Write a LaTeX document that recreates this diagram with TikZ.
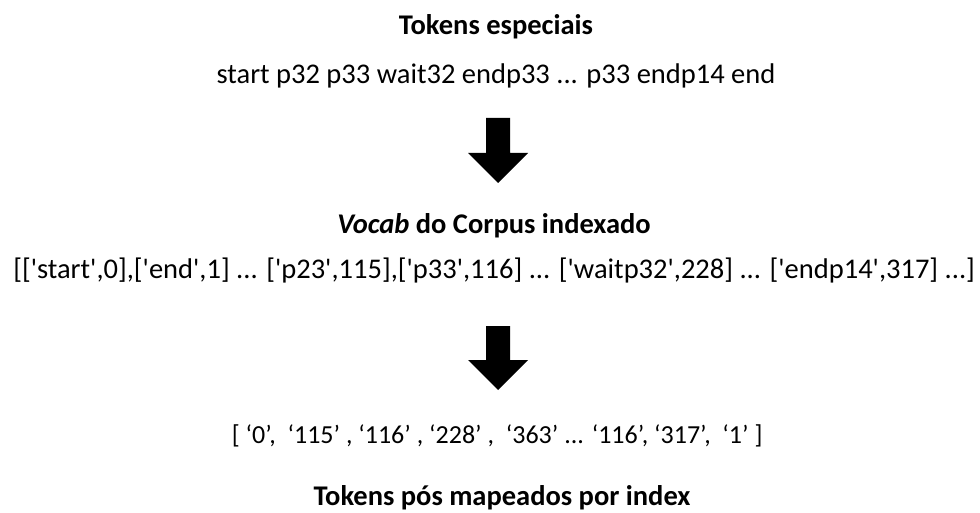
\documentclass[tikz,border=0pt]{standalone}
\usepackage{fontspec}
\setmainfont{Carlito}
\newcommand\sq{\textquotesingle}
\begin{document}
\begin{tikzpicture}[x=1pt,y=-1pt,
  txt/.style={anchor=base,inner sep=0pt,font=\fontsize{28.5}{32}\selectfont},
  smalltxt/.style={anchor=base,inner sep=0pt,font=\fontsize{26}{30}\selectfont},
  ttl/.style={txt,font=\fontsize{28.5}{32}\selectfont\bfseries},
  blockarrow/.style={fill=black,draw=none}]
\useasboundingbox (0,0) rectangle (980,513);
\node[ttl] (t1) at (496,35) {Tokens especiais};
\node[txt] (l1) at (496,84) {start p32 p33 wait32 endp33 ... p33 endp14 end};
\node[ttl] (t2) at (494,234) {\textit{Vocab} do Corpus indexado};
\node[txt] (l2) at (494,279) {[[\sq start\sq,0],[\sq end\sq,1] ... [\sq p23\sq,115],[\sq p33\sq,116] ... [\sq waitp32\sq,228] ... [\sq endp14\sq,317] ...]};
\node[smalltxt] (l3) at (497,443) {[ ‘0’,~ ‘115’ , ‘116’ , ‘228’ ,~ ‘363’ ... ‘116’, ‘317’,~ ‘1’ ]};
\node[ttl] (t3) at (502,505) {Tokens pós mapeados por index};
\coordinate (a1) at (498,118);
\coordinate (a2) at (498,326);
\fill[blockarrow] (a1) ++(-12,0) -- ++(24,0) -- ++(0,35) -- ++(18,0) -- ++(-30,30) -- ++(-30,-30) -- ++(18,0) -- cycle;
\fill[blockarrow] (a2) ++(-12,0) -- ++(24,0) -- ++(0,34) -- ++(18,0) -- ++(-30,30) -- ++(-30,-30) -- ++(18,0) -- cycle;
\end{tikzpicture}
\end{document}
